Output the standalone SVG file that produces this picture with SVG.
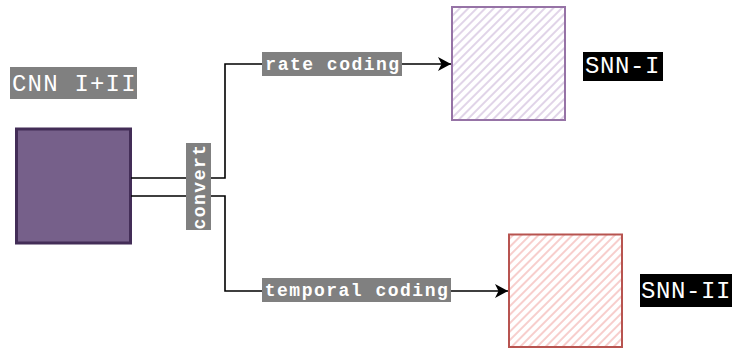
<svg xmlns="http://www.w3.org/2000/svg" width="732" height="349" viewBox="0 0 732 349">
  <style>
    .wire { fill: none; stroke: #000; stroke-width: 1.6; }
    .tag { fill: #808080; }
    .tagtxt { font-family: "Liberation Mono", "DejaVu Sans Mono", monospace; font-weight: bold; font-size: 18px; letter-spacing: 1.5px; fill: #fff; }
    .bigtxt { font-family: "Liberation Mono", "DejaVu Sans Mono", monospace; font-size: 24px; fill: #fff; }
  </style>
  <defs>
    <pattern id="hatchPurple" patternUnits="userSpaceOnUse" width="6" height="6" patternTransform="rotate(45)">
      <line x1="1" y1="0" x2="1" y2="6" stroke="#D9C9E2" stroke-width="1.6"/>
    </pattern>
    <pattern id="hatchRed" patternUnits="userSpaceOnUse" width="6" height="6" patternTransform="rotate(45)">
      <line x1="1" y1="0" x2="1" y2="6" stroke="#F5C2C0" stroke-width="1.6"/>
    </pattern>
    <marker id="arrow" markerUnits="userSpaceOnUse" markerWidth="16" markerHeight="16" refX="14" refY="8" orient="auto">
      <path d="M1,1 L14,8 L1,15 L4.5,8 Z" fill="#000"/>
    </marker>
  </defs>

  <!-- source network -->
  <g id="cnn">
    <rect x="16.5" y="129" width="114" height="114" fill="#76608A" stroke="#432D57" stroke-width="3"/>
  </g>
  <g id="cnn-label">
    <rect class="tag" x="10" y="67" width="127" height="32"/>
    <text class="bigtxt" x="12" y="91" style="letter-spacing:1.2px">CNN I+II</text>
  </g>

  <!-- target networks -->
  <g id="snn1">
    <rect x="452" y="7" width="113" height="113" fill="url(#hatchPurple)" stroke="#9673A6" stroke-width="2"/>
  </g>
  <g id="snn1-label">
    <rect x="583" y="52" width="80" height="29" fill="#000"/>
    <text class="bigtxt" x="585" y="73" style="letter-spacing:0.6px">SNN-I</text>
  </g>

  <g id="snn2">
    <rect x="509" y="234.5" width="113" height="112.5" fill="url(#hatchRed)" stroke="#B85450" stroke-width="2"/>
  </g>
  <g id="snn2-label">
    <rect x="640" y="274" width="92" height="33" fill="#000"/>
    <text class="bigtxt" x="641" y="298" style="letter-spacing:0.6px">SNN-II</text>
  </g>

  <!-- connectors -->
  <g id="connectors">
    <path class="wire" d="M131,178 H225 V64 H451" marker-end="url(#arrow)"/>
    <path class="wire" d="M131,196 H225 V291 H508" marker-end="url(#arrow)"/>

    <rect class="tag" x="186" y="143" width="25" height="87"/>
    <text class="tagtxt" transform="translate(204.5,186.5) rotate(-90)" text-anchor="middle">convert</text>

    <rect class="tag" x="262" y="52" width="140" height="24"/>
    <text class="tagtxt" x="333" y="70" text-anchor="middle">rate coding</text>

    <rect class="tag" x="262" y="278" width="189" height="24"/>
    <text class="tagtxt" x="357" y="296" text-anchor="middle">temporal coding</text>
  </g>
</svg>
